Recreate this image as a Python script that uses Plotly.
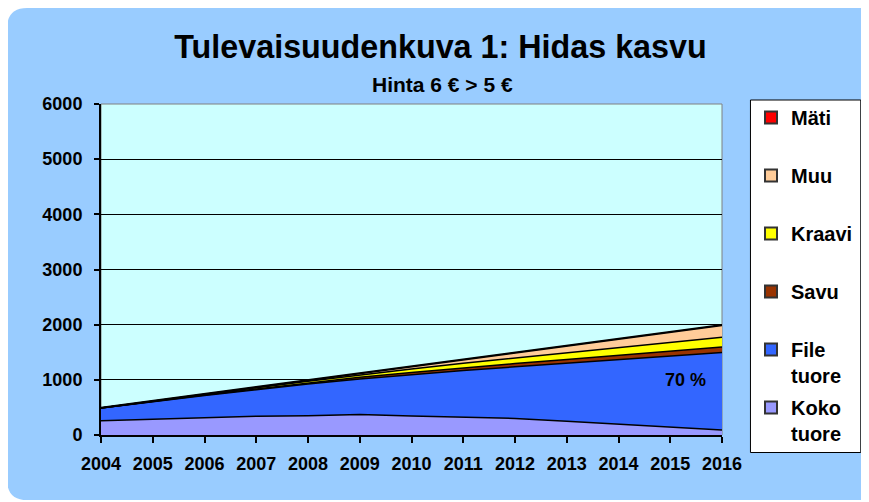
import plotly.graph_objects as go

# ---- data ----
years = [2004, 2005, 2006, 2007, 2008, 2009, 2010, 2011, 2012, 2013, 2014, 2015, 2016]
koko_tuore = [260, 290, 320, 340, 350, 370, 345, 320, 300, 250, 200, 150, 90]
file_tuore = [230, 315, 395, 480, 575, 645, 750, 850, 935, 1050, 1165, 1275, 1405]
savu = [0, 5, 10, 15, 20, 30, 40, 50, 60, 70, 80, 90, 100]
kraavi = [0, 5, 10, 20, 30, 45, 60, 80, 100, 120, 140, 160, 175]
muu = [0, 0, 5, 10, 15, 25, 45, 65, 90, 120, 150, 185, 215]
mati = [10, 10, 10, 10, 10, 12, 12, 12, 14, 14, 15, 15, 15]

series_names = ["Koko<br>tuore", "File<br>tuore", "Savu", "Kraavi", "Muu", "Mäti"]
series_values = [koko_tuore, file_tuore, savu, kraavi, muu, mati]
series_colors = ["#9999FF", "#3366FF", "#993300", "#FFFF00", "#FFCC99", "#FF0000"]

y_ticks = [0, 1000, 2000, 3000, 4000, 5000, 6000]
title_text = "Tulevaisuudenkuva 1: Hidas kasvu"
subtitle_text = "Hinta 6 € > 5 €"
share_label = "70 %"

FONT = "Liberation Sans, Arial, sans-serif"
OFF = 8                      # page body margin of the browser
W, H = 869 - OFF, 502 - OFF
L, R, T, B = 101 - OFF, 146, 104 - OFF, 67
PW, PH = W - L - R, H - T - B


def px_x(p):                 # reference-pixel x -> paper fraction
    return (p - OFF - L) / PW


def px_y(p):                 # reference-pixel y -> paper fraction
    return (H - B - (p - OFF)) / PH


fig = go.Figure()

# stacked areas
for name, vals, col in zip(series_names, series_values, series_colors):
    fig.add_trace(go.Scatter(
        x=years, y=vals, name=name, stackgroup="one", mode="lines",
        line=dict(color="black", width=1.5), fillcolor=col,
        showlegend=False, hoverinfo="x+y+name",
    ))

# legend entries (square swatches like the original); the last one sits in
# a second legend so the entries keep the original's even spacing
legend_items = list(reversed(list(zip(series_names, series_colors))))
for i, (name, col) in enumerate(legend_items):
    fig.add_trace(go.Scatter(
        x=[None], y=[None], mode="markers", name=name,
        marker=dict(symbol="square", size=11, color=col,
                    line=dict(color="#333333", width=1)),
        legendgroup=f"g{i}", showlegend=True,
        legend="legend2" if i == len(legend_items) - 1 else "legend",
    ))

# rounded blue background panel
x0, x1 = px_x(7), px_x(900)
y0, y1 = px_y(8), px_y(500)
rx, ry = 20 / PW, 20 / PH
path = (f"M {x0 + rx},{y0} L {x1},{y0} L {x1},{y1} L {x0 + rx},{y1} "
        f"Q {x0},{y1} {x0},{y1 + ry} L {x0},{y0 - ry} Q {x0},{y0} {x0 + rx},{y0} Z")
fig.add_shape(type="path", path=path, xref="paper", yref="paper",
              fillcolor="#99CCFF", line=dict(width=0), layer="below")
# plot area background + grey frame
fig.add_shape(type="rect", xref="paper", yref="paper", x0=0, x1=1, y0=0, y1=1,
              fillcolor="#CCFFFF", line=dict(color="#808080", width=1), layer="below")
# legend box
fig.add_shape(type="rect", xref="paper", yref="paper",
              x0=px_x(751.5), x1=px_x(862), y0=px_y(100), y1=px_y(452.5),
              fillcolor="white", line=dict(color="black", width=1), layer="below")

fig.add_annotation(text=subtitle_text, xref="paper", yref="paper",
                   x=px_x(443.5), y=px_y(84), showarrow=False,
                   xanchor="center", yanchor="middle",
                   font=dict(family=FONT, size=21, color="black", weight="bold"))
fig.add_annotation(text=share_label, x=2015.3, y=1000, showarrow=False,
                   xanchor="center", yanchor="middle",
                   font=dict(family=FONT, size=18, color="black", weight="bold"))

legend_font = dict(family=FONT, size=20, color="black", weight="bold")
fig.update_layout(
    width=W, height=H,
    margin=dict(l=L, r=R, t=T, b=B),
    paper_bgcolor="white", plot_bgcolor="#CCFFFF",
    title=dict(text=title_text, x=(440.5 - OFF) / W, xanchor="center",
               y=1 - (47 - OFF) / H, yanchor="middle", yref="container",
               font=dict(family=FONT, size=32.3, color="black", weight="bold")),
    font=dict(family=FONT, color="black"),
    legend=dict(x=px_x(751), y=px_y(98), xanchor="left", yanchor="top",
                bgcolor="rgba(0,0,0,0)", borderwidth=0, font=legend_font,
                traceorder="grouped", tracegroupgap=29, valign="top",
                itemsizing="constant", maxheight=420),
    legend2=dict(x=px_x(751), y=px_y(388), xanchor="left", yanchor="top",
                 bgcolor="rgba(0,0,0,0)", borderwidth=0, font=legend_font,
                 valign="top", itemsizing="constant"),
    xaxis=dict(range=[years[0], years[-1]], tickmode="array", tickvals=years,
               ticktext=[str(y) for y in years], showgrid=False,
               showline=True, linecolor="black", linewidth=2,
               ticks="outside", ticklen=6, tickwidth=2, tickcolor="black",
               ticklabelstandoff=5,
               tickfont=dict(family=FONT, size=18, color="black", weight="bold"),
               zeroline=False, fixedrange=True),
    yaxis=dict(range=[0, 6000], tickmode="array", tickvals=y_ticks,
               showgrid=True, gridcolor="black", gridwidth=1,
               showline=True, linecolor="black", linewidth=2,
               ticks="outside", ticklen=5, tickwidth=2, tickcolor="black",
               ticklabelstandoff=8,
               tickfont=dict(family=FONT, size=18, color="black", weight="bold"),
               zeroline=False, fixedrange=True),
)

fig.write_html("out.html")
